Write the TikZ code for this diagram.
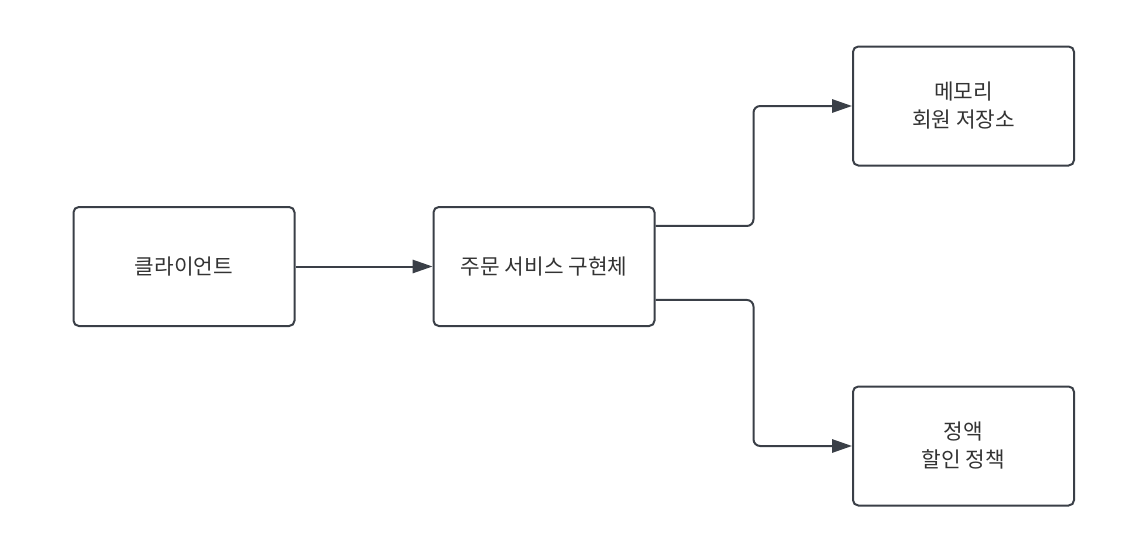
\documentclass[tikz,border=0pt]{standalone}
\usepackage{fontspec}
\setmainfont{Noto Sans CJK KR}
\usetikzlibrary{arrows.meta}
\definecolor{edge}{HTML}{3A3F47}
\tikzset{
  box/.style={draw=edge,line width=1.5pt,rounded corners=4pt,
    minimum width=165.75pt,minimum height=89.25pt,align=center,
    text=black!80,font=\fontsize{16pt}{21pt}\selectfont},
  conn/.style={draw=edge,line width=1.5pt,rounded corners=5pt,
    -{Triangle[length=15pt,width=10pt]}}
}
\begin{document}
\begin{tikzpicture}[x=0.75pt,y=-0.75pt]
  \useasboundingbox (0,0) rectangle (1147,553);
  \node[box] (client) at (184,266.5) {클라이언트};
  \node[box] (svc) at (544,266.5) {주문 서비스 구현체};
  \node[box] (repo) at (963.5,106) {메모리\\회원 저장소};
  \node[box] (policy) at (963.5,446) {정액\\할인 정책};
  \draw[conn] (client) -- (svc);
  \draw[conn] ([yshift=30.4pt]svc.east) -- ++(98,0) |- (repo.west);
  \draw[conn] ([yshift=-25.1pt]svc.east) -- ++(98,0) |- (policy.west);
\end{tikzpicture}
\end{document}
